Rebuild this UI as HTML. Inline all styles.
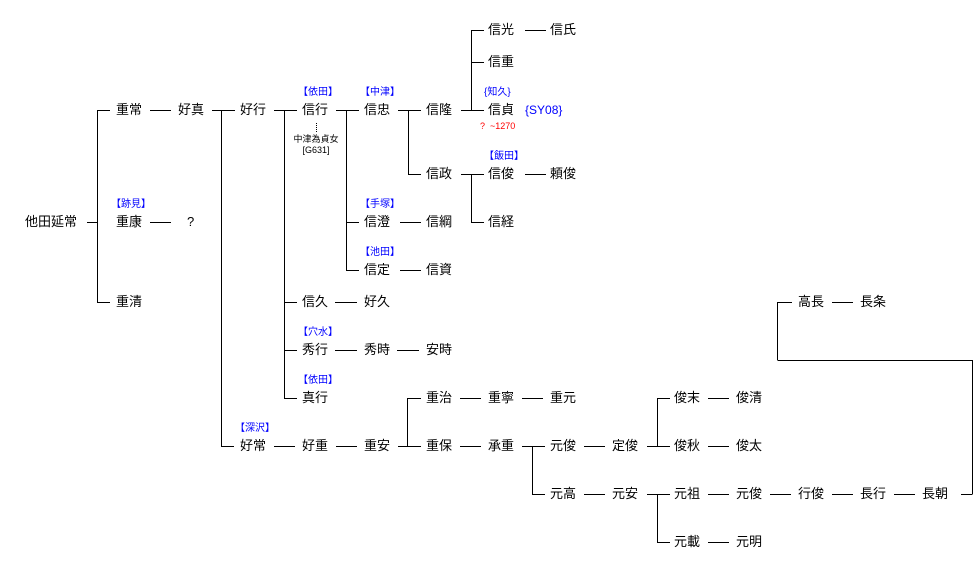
<!DOCTYPE html>
<html><head><meta charset="utf-8"><style>
body{margin:0;background:#fff;}
#c{position:relative;width:976px;height:586px;overflow:hidden;font-family:"Liberation Sans","Noto Sans CJK JP",sans-serif;}
.n{position:absolute;font-size:13px;line-height:16px;color:#000;white-space:nowrap;}
.b{position:absolute;font-size:10px;line-height:12px;color:#00f;white-space:nowrap;}
.s{position:absolute;font-size:9px;line-height:11px;color:#000;white-space:nowrap;text-align:center;}
svg{position:absolute;left:0;top:0;}
</style></head><body><div id="c">
<svg width="976" height="586" shape-rendering="crispEdges" stroke="#000" stroke-width="1" fill="none">
<!-- root -->
<path d="M87 222.5H97.5 M97.5 110V302 M97 110.5H110 M97 302.5H110"/>
<path d="M150 110.5H171 M150 222.5H171"/>
<path d="M212 110.5H235 M221.5 110V446 M221 446.5H234"/>
<path d="M274 110.5H297 M284.5 110V398 M284 302.5H297 M284 350.5H297 M284 398.5H297"/>
<path d="M336 110.5H359 M346.5 110V270 M346 222.5H359 M346 270.5H359"/>
<path d="M398 110.5H421 M408.5 110V174 M408 174.5H421"/>
<path d="M400 222.5H421 M400 270.5H421"/>
<path d="M461 110.5H484 M471.5 30V110 M471 30.5H484 M471 62.5H484"/>
<path d="M525 30.5H546 M525 174.5H546"/>
<path d="M461 174.5H484 M471.5 174V222 M471 222.5H484"/>
<path d="M316.5 123V133" stroke-dasharray="1 1"/>
<path d="M335 302.5H357 M335 350.5H357 M397 350.5H419"/>
<path d="M274 446.5H295 M336 446.5H357"/>
<path d="M398 446.5H421 M407.5 398V446 M407 398.5H421"/>
<path d="M460 398.5H481 M522 398.5H543 M460 446.5H481"/>
<path d="M522 446.5H545 M532.5 446V494 M532 494.5H545"/>
<path d="M584 446.5H605 M584 494.5H605"/>
<path d="M647 446.5H670 M657.5 398V446 M657 398.5H670"/>
<path d="M708 398.5H729 M708 446.5H729"/>
<path d="M647 494.5H670 M657.5 494V542 M657 542.5H670"/>
<path d="M708 494.5H729 M770 494.5H791 M832 494.5H853 M894 494.5H915 M708 542.5H729"/>
<path d="M961 494.5H972.5 M972.5 360V494 M777.5 360.5H972 M777.5 302V360 M777 302.5H792 M832 302.5H853"/>
</svg>
<div class="n" style="left:25px;top:214px">他田延常</div>
<div class="n" style="left:116px;top:102px">重常</div>
<div class="n" style="left:116px;top:214px">重康</div>
<div class="n" style="left:116px;top:294px">重清</div>
<div class="n" style="left:187px;top:214px">?</div>
<div class="n" style="left:178px;top:102px">好真</div>
<div class="n" style="left:240px;top:102px">好行</div>
<div class="n" style="left:302px;top:102px">信行</div>
<div class="n" style="left:364px;top:102px">信忠</div>
<div class="n" style="left:426px;top:102px">信隆</div>
<div class="n" style="left:488px;top:22px">信光</div>
<div class="n" style="left:550px;top:22px">信氏</div>
<div class="n" style="left:488px;top:54px">信重</div>
<div class="n" style="left:488px;top:102px">信貞</div>
<div class="b" style="left:525px;top:103px;font-size:12px;line-height:14px">{SY08}</div>
<div class="b" style="left:480px;top:120px;color:#f00;font-size:9px">?&nbsp; ~1270</div>
<div class="n" style="left:426px;top:166px">信政</div>
<div class="n" style="left:488px;top:166px">信俊</div>
<div class="n" style="left:550px;top:166px">頼俊</div>
<div class="n" style="left:488px;top:214px">信経</div>
<div class="n" style="left:364px;top:214px">信澄</div>
<div class="n" style="left:426px;top:214px">信綱</div>
<div class="n" style="left:364px;top:262px">信定</div>
<div class="n" style="left:426px;top:262px">信資</div>
<div class="n" style="left:302px;top:294px">信久</div>
<div class="n" style="left:364px;top:294px">好久</div>
<div class="n" style="left:302px;top:342px">秀行</div>
<div class="n" style="left:364px;top:342px">秀時</div>
<div class="n" style="left:426px;top:342px">安時</div>
<div class="n" style="left:302px;top:390px">真行</div>
<div class="n" style="left:426px;top:390px">重治</div>
<div class="n" style="left:488px;top:390px">重寧</div>
<div class="n" style="left:550px;top:390px">重元</div>
<div class="n" style="left:240px;top:438px">好常</div>
<div class="n" style="left:302px;top:438px">好重</div>
<div class="n" style="left:364px;top:438px">重安</div>
<div class="n" style="left:426px;top:438px">重保</div>
<div class="n" style="left:488px;top:438px">承重</div>
<div class="n" style="left:550px;top:438px">元俊</div>
<div class="n" style="left:612px;top:438px">定俊</div>
<div class="n" style="left:674px;top:390px">俊末</div>
<div class="n" style="left:736px;top:390px">俊清</div>
<div class="n" style="left:674px;top:438px">俊秋</div>
<div class="n" style="left:736px;top:438px">俊太</div>
<div class="n" style="left:550px;top:486px">元高</div>
<div class="n" style="left:612px;top:486px">元安</div>
<div class="n" style="left:674px;top:486px">元祖</div>
<div class="n" style="left:736px;top:486px">元俊</div>
<div class="n" style="left:798px;top:486px">行俊</div>
<div class="n" style="left:860px;top:486px">長行</div>
<div class="n" style="left:922px;top:486px">長朝</div>
<div class="n" style="left:674px;top:534px">元載</div>
<div class="n" style="left:736px;top:534px">元明</div>
<div class="n" style="left:798px;top:294px">高長</div>
<div class="n" style="left:860px;top:294px">長条</div>
<div class="b" style="left:298px;top:87px">【依田】</div>
<div class="b" style="left:360px;top:87px">【中津】</div>
<div class="b" style="left:484px;top:87px">{知久}</div>
<div class="b" style="left:484px;top:151px">【飯田】</div>
<div class="b" style="left:111px;top:199px">【跡見】</div>
<div class="b" style="left:360px;top:199px">【手塚】</div>
<div class="b" style="left:360px;top:247px">【池田】</div>
<div class="b" style="left:298px;top:327px">【穴水】</div>
<div class="b" style="left:298px;top:375px">【依田】</div>
<div class="b" style="left:235px;top:423px">【深沢】</div>
<div class="s" style="left:286px;top:134px;width:60px">中津為貞女<br>[G631]</div>
</div></body></html>
